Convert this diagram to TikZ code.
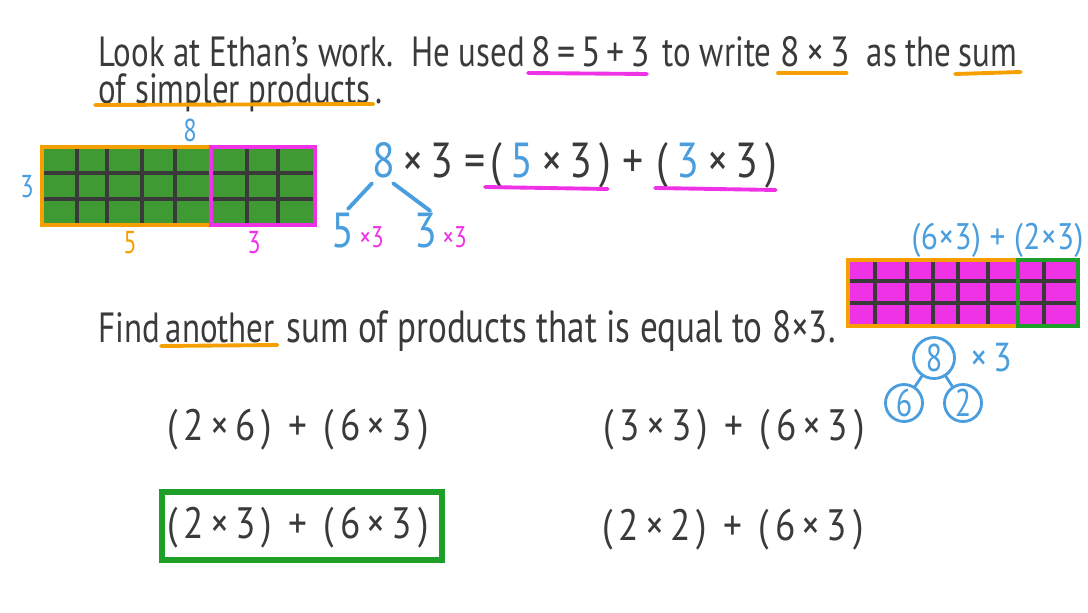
\documentclass[tikz,border=0pt]{standalone}
\usepackage{fontspec}
\setmainfont[FakeStretch=0.78]{PT Sans}
\newfontfamily\handmath[FakeStretch=0.85, LetterSpace=14]{PT Sans}
\newfontfamily\handsmall[FakeStretch=0.85, LetterSpace=1]{PT Sans}
\usetikzlibrary{positioning}
\definecolor{ink}{RGB}{58,58,58}
\definecolor{skyblue}{RGB}{74,158,222}
\definecolor{amber}{RGB}{245,160,0}
\definecolor{hotpink}{RGB}{240,50,230}
\definecolor{leaf}{RGB}{64,154,52}
\definecolor{boxgreen}{RGB}{30,160,40}
\tikzset{
  x=0.01cm, y=-0.01cm, semithick,
  txt/.style={inner sep=0pt, anchor=base west, text=ink, font=\fontsize{12}{14}\selectfont},
  word/.style={inner sep=0pt, anchor=base west, text=ink, font=\handmath\fontsize{12}{14}\selectfont},
  eq/.style={inner sep=0pt, anchor=base west, text=ink, font=\handmath\fontsize{14}{16}\selectfont},
  lbl/.style={inner sep=0pt, font=\fontsize{9}{10}\selectfont},
  small/.style={inner sep=0pt, anchor=base west, text=hotpink, font=\fontsize{8.5}{9}\selectfont},
  opt/.style={inner sep=0pt, text=ink, font=\handmath\fontsize{12.5}{14}\selectfont},
  gridline/.style={draw=ink, line width=1pt},
  frame/.style={line width=0.9pt},
  ul/.style={line width=1.1pt, line cap=round},
  branch/.style={draw=skyblue, line width=1.1pt, line cap=round},
  ring/.style={circle, draw=skyblue, line width=0.8pt, text=skyblue, inner sep=0pt,
    minimum size=0.41cm, font=\fontsize{11}{12}\selectfont}
}
\begin{document}
\begin{tikzpicture}
  \useasboundingbox (0,0) rectangle (1088,612);

  % question
  \node[txt] (q1) at (98,67) {Look at Ethan's work.\ \ He used};
  \node[word] (q1b) at (531,67) {8=5+3};
  \node[txt] (q1c) at (662,67) {to write};
  \node[word] (q1d) at (780,67) {8×3};
  \node[txt] (q1e) at (866,67) {as the};
  \node[txt] (q1f) at (958,67) {sum};
  \node[txt] (q2) at (98,103) {of simpler products};
  \node[txt, anchor=base west] (q2dot) at ([xshift=1pt]q2.base east) {.};
  \draw[ul, hotpink] ([shift={(-3,6)}]q1b.base west) -- ([shift={(-4,7)}]q1b.base east);
  \draw[ul, amber] ([shift={(-2,6)}]q1d.base west) -- ([shift={(-4,6)}]q1d.base east);
  \draw[ul, amber] ([shift={(-3,7)}]q1f.base west) -- ([shift={(3,5)}]q1f.base east);
  \draw[ul, amber] ([shift={(-3,2)}]q2.base west) -- ([shift={(2,1)}]q2.base east);

  % first grid
  \fill[leaf] (42,147) rectangle (315,225);
  \foreach \y in {173,199} \draw[gridline] (42,\y) -- (315,\y);
  \foreach \x in {77,107,142,175,247,278} \draw[gridline] (\x,147) -- (\x,225);
  \draw[frame, amber] (42,147) rectangle (211,225);
  \draw[frame, hotpink] (211,147) rectangle (315,225);
  \node[lbl, text=skyblue] (w8) at (190,130) {8};
  \node[lbl, text=skyblue] (h3) at (27,187) {3};
  \node[lbl, text=amber] (w5) at (130,243) {5};
  \node[lbl, text=hotpink] (w3) at (254,243) {3};

  % equation
  \node[eq, text=skyblue] (e8) at (372,177) {8};
  \node[eq] (e1) at (402,177) {×3};
  \node[eq] (eeq) at (464,177) {=};
  \node[eq] (e2) at (490,177) {(\,\textcolor{skyblue}{5}\,×3)};
  \node[eq] (e3) at (622,177) {+};
  \node[eq] (e4) at (656,177) {(\,\textcolor{skyblue}{3}\,×3)};
  \draw[ul, hotpink] ([shift={(-5,10)}]e2.base west) -- ([shift={(-4,12)}]e2.base east);
  \draw[ul, hotpink] ([shift={(-1,11)}]e4.base west) -- ([shift={(-2,13)}]e4.base east);
  \node[eq, text=skyblue] (b5) at (331,247) {5};
  \node[small] (b5x) at ([xshift=1pt]b5.base east) {×3};
  \node[eq, text=skyblue] (b3) at (414,247) {3};
  \node[small] (b3x) at ([xshift=1pt]b3.base east) {×3};
  \draw[branch] ([shift={(0,5)}]e8.south west) -- ([shift={(5,-3)}]b5.north);
  \draw[branch] ([shift={(-3,5)}]e8.south east) -- ([shift={(4,-1)}]b3.north);

  % second grid
  \fill[hotpink] (848,260) rectangle (1078,326);
  \foreach \y in {281,303} \draw[gridline] (848,\y) -- (1078,\y);
  \foreach \x in {875,907,933,958,988,1044} \draw[gridline] (\x,260) -- (\x,326);
  \draw[frame, amber] (848,260) rectangle (1018,326);
  \draw[frame, boxgreen] (1018,260) rectangle (1078,326);
  \node[lbl, text=skyblue, anchor=east, font=\handsmall\fontsize{10.5}{12}\selectfont] (split) at (1084,240) {(6×3) + (2×3)};

  % factor tree
  \node[ring] (c8) at (934,358) {8};
  \node[lbl, text=skyblue, right=4pt of c8, font=\handmath\fontsize{11.5}{12}\selectfont] (t3) {×3};
  \node[ring, minimum size=0.37cm] (c6) at (904,403) {6};
  \node[ring, minimum size=0.37cm] (c2) at (963,403) {2};
  \draw[branch, line width=0.8pt] (c8) -- (c6);
  \draw[branch, line width=0.8pt] (c8) -- (c2);

  % task
  \node[txt] (find) at (98,342) {Find};
  \node[txt] (fa) at (165,342) {another};
  \node[txt, font=\fontsize{12.8}{14}\selectfont] (fb) at (286,342) {sum of products that is equal to 8×3.};
  \draw[ul, amber] ([shift={(-4,4)}]fa.base west) -- ([shift={(2,3)}]fa.base east);

  % choices
  \node[opt] (o1) at (298,430) {(2×6) + (6×3)};
  \node[opt] (o2) at (734,430) {(3×3) + (6×3)};
  \node[opt] (o3) at (298,528) {(2×3) + (6×3)};
  \node[opt] (o4) at (733,530) {(2×2) + (6×3)};
  \draw[boxgreen, line width=1.7pt] (162,492) rectangle (442,560);
\end{tikzpicture}
\end{document}
